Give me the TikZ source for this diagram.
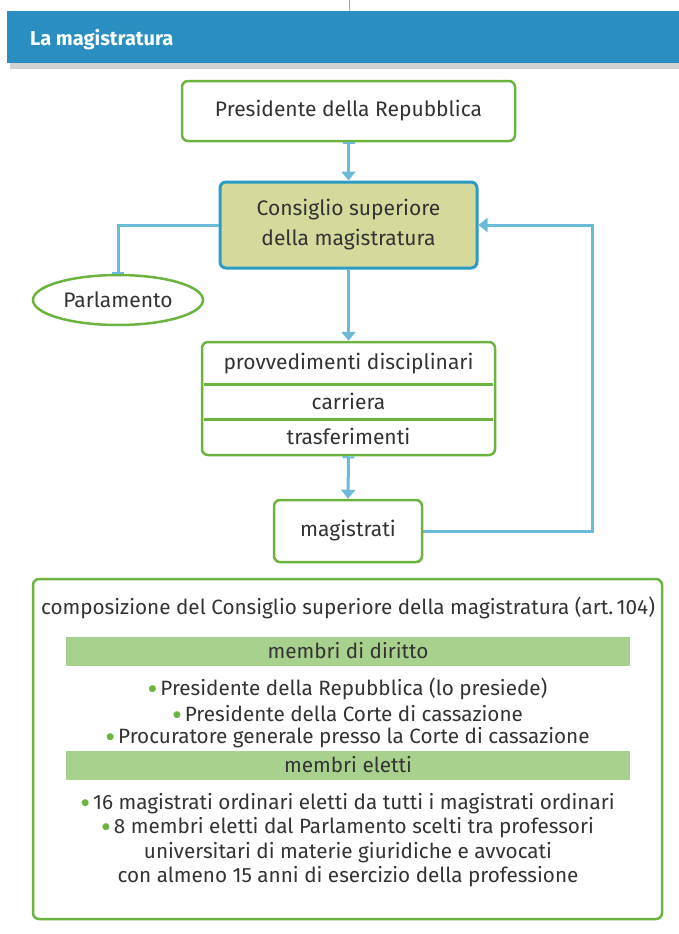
\documentclass[tikz,border=0pt]{standalone}
\usepackage{fontspec}
\setmainfont{Fira Sans}
\newfontfamily\djv{DejaVu Sans}
\usetikzlibrary{arrows.meta,shapes.geometric}
\definecolor{hdr}{HTML}{2A8FC0}
\definecolor{grn}{HTML}{6DB33F}
\definecolor{blu}{HTML}{6BBAD8}
\definecolor{bluedge}{HTML}{2A9CC4}
\definecolor{khaki}{HTML}{D5D99C}
\definecolor{barf}{HTML}{A9D18E}
\definecolor{txt}{HTML}{333333}
\newcommand\gbul{\raisebox{4pt}{\color{grn}\djv\fontsize{9}{9}\selectfont ●}\hspace{4pt}}
\begin{document}
\begin{tikzpicture}[x=1pt,y=-1pt,
  box/.style={draw=grn,line width=2.5pt,rounded corners=6pt,fill=white,align=center,text=txt,font=\fontsize{21}{30}\selectfont,inner sep=0pt},
  conn/.style={draw=blu,line width=3pt,-{Triangle[width=14pt,length=9pt]}},
  connb/.style={draw=blu,line width=3pt,{Bar[width=12pt,line width=2pt]}-{Triangle[width=14pt,length=9pt]}},
  barbox/.style={fill=barf,minimum width=564pt,minimum height=29pt,inner sep=0pt,text=txt,font=\fontsize{20.7}{22}\selectfont},
  item/.style={text=txt,font=\fontsize{20.7}{22}\selectfont,inner sep=0pt,align=center}
]
\useasboundingbox (0,0) rectangle (679,934);
\fill[white] (0,0) rectangle (679,934);
% page artifact line
\coordinate (t0) at (349,0);
\coordinate (t1) at (349,11);
\draw[gray!70,line width=0.8pt] (t0) -- (t1);
% header
\fill[gray!35] (10,63) rectangle (679,69);
\node[fill=hdr,minimum width=672pt,minimum height=52pt,inner sep=0pt] (hdr) at (343,37.5) {};
\node[anchor=west,text=white,font=\fontsize{20}{24}\selectfont\bfseries,inner sep=0pt] (title) at (30,40) {La magistratura};

% nodes
\node[box,minimum width=333pt,minimum height=60pt] (pres) at (348.5,111) {Presidente della Repubblica};
\node[box,draw=bluedge,fill=khaki,line width=3pt,minimum width=257pt,minimum height=86pt] (cons) at (348.5,225) {Consiglio superiore\\della magistratura};
\node[draw=grn,line width=2.5pt,ellipse,fill=white,text=txt,font=\fontsize{21}{23}\selectfont,minimum width=170pt,minimum height=50pt,inner sep=0pt] (parl) at (118,300) {Parlamento};
\node[box,minimum width=293pt,minimum height=113pt] (provv) at (348.5,398.5) {};
\node[item,font=\fontsize{21}{23}\selectfont] (p1) at (348.5,364) {provvedimenti disciplinari};
\node[item,font=\fontsize{21}{23}\selectfont] (p2) at (348.5,401) {carriera};
\node[item,font=\fontsize{21}{23}\selectfont] (p3) at (348.5,436) {trasferimenti};
\coordinate (d1) at (348,384);
\coordinate (d2) at (348,419);
\draw[grn,line width=3pt] ([xshift=3pt]provv.west |- d1) -- ([xshift=-3pt]provv.east |- d1);
\draw[grn,line width=3pt] ([xshift=3pt]provv.west |- d2) -- ([xshift=-3pt]provv.east |- d2);
\node[box,minimum width=148pt,minimum height=62pt] (mag) at (348,531) {magistrati};

% connectors
\draw[connb] (pres.south) -- (cons.north);
\draw[draw=blu,line width=3pt,-{Bar[width=12pt,line width=2pt]}] (cons.west) -| (parl.north);
\draw[conn] (cons.south) -- (provv.north);
\draw[connb] (provv.south) -- (mag.north);
\coordinate (c1) at (592,531);
\draw[conn] (mag.east) -- (c1) |- (cons.east);

% composition box
\node[draw=grn,line width=2.5pt,rounded corners=6pt,fill=white,minimum width=629pt,minimum height=340pt,inner sep=0pt] (comp) at (347.5,749) {};
\node[item] (ctitle) at (348,608) {composizione del Consiglio superiore della magistratura (art.\,104)};
\node[barbox] (b1) at (348,651) {membri di diritto};
\node[item] (i1) at (348,689) {\gbul Presidente della Repubblica (lo presiede)};
\node[item] (i2) at (348,714) {\gbul Presidente della Corte di cassazione};
\node[item] (i3) at (348,738) {\gbul Procuratore generale presso la Corte di cassazione};
\node[barbox] (b2) at (348,765) {membri eletti};
\node[item] (i4) at (348,804) {\gbul 16 magistrati ordinari eletti da tutti i magistrati ordinari};
\node[item] (i5) at (348,828) {\gbul 8 membri eletti dal Parlamento scelti tra professori};
\node[item] (i6) at (348,853) {universitari di materie giuridiche e avvocati};
\node[item] (i7) at (348,877) {con almeno 15 anni di esercizio della professione};
\end{tikzpicture}
\end{document}
